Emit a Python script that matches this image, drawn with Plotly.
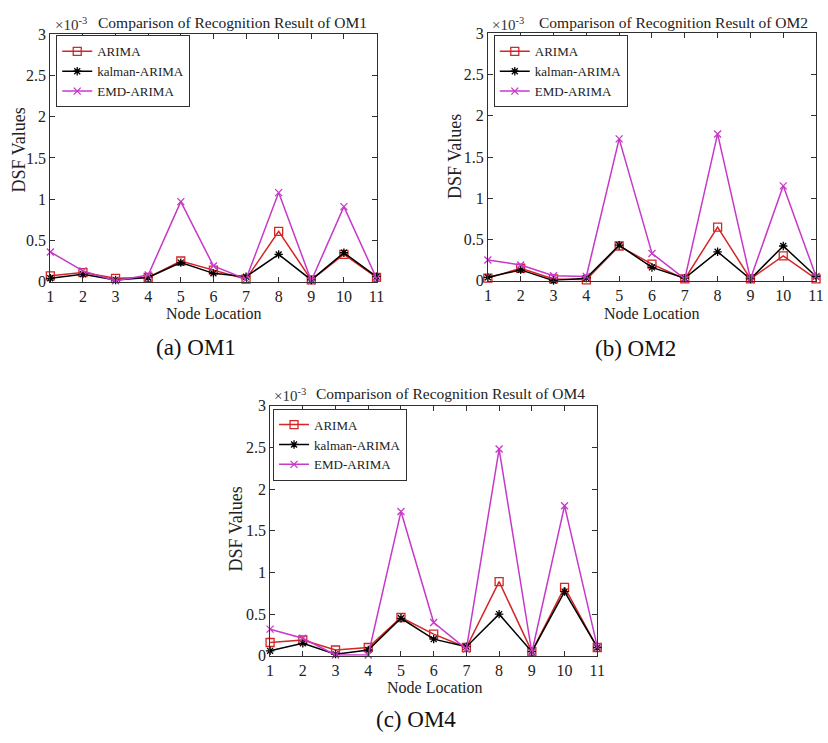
import plotly.graph_objects as go

W, H = 828, 743

nodes = [1, 2, 3, 4, 5, 6, 7, 8, 9, 10, 11]
x_ticks = [1, 2, 3, 4, 5, 6, 7, 8, 9, 10, 11]
y_ticks = [0, 0.5, 1, 1.5, 2, 2.5, 3]
y_tick_labels = ["0", "0.5", "1", "1.5", "2", "2.5", "3"]

series_names = ["ARIMA", "kalman-ARIMA", "EMD-ARIMA"]

# values in units of 1e-3
om1_arima = [0.07, 0.11, 0.04, 0.05, 0.25, 0.14, 0.03, 0.61, 0.02, 0.33, 0.05]
om1_kalman = [0.04, 0.09, 0.02, 0.05, 0.23, 0.10, 0.06, 0.33, 0.02, 0.35, 0.06]
om1_emd = [0.36, 0.13, 0.01, 0.08, 0.97, 0.19, 0.03, 1.08, 0.01, 0.91, 0.04]

om2_arima = [0.03, 0.15, 0.02, 0.01, 0.42, 0.20, 0.02, 0.65, 0.02, 0.30, 0.02]
om2_kalman = [0.04, 0.13, 0.00, 0.03, 0.43, 0.16, 0.03, 0.35, 0.02, 0.42, 0.05]
om2_emd = [0.25, 0.19, 0.06, 0.05, 1.72, 0.33, 0.02, 1.78, 0.02, 1.15, 0.05]

om4_arima = [0.16, 0.19, 0.07, 0.10, 0.46, 0.26, 0.10, 0.89, 0.05, 0.82, 0.10]
om4_kalman = [0.06, 0.15, 0.02, 0.07, 0.45, 0.20, 0.11, 0.50, 0.05, 0.77, 0.10]
om4_emd = [0.32, 0.21, 0.01, 0.01, 1.73, 0.40, 0.08, 2.48, 0.04, 1.80, 0.11]

titles = ["Comparison of Recognition Result of OM1",
          "Comparison of Recognition Result of OM2",
          "Comparison of Recognition Result of OM4"]
captions = ["(a) OM1", "(b) OM2", "(c) OM4"]

panels = [
    dict(data=[om1_arima, om1_kalman, om1_emd], box=(47, 378, 27, 280),
         legend=(53, 28), title=(232, 15), exp=(50, 16), ylab=(15, 145),
         xlab=(213, 313), cap=(195, 347)),
    dict(data=[om2_arima, om2_kalman, om2_emd], box=(491, 824, 26, 279),
         legend=(497, 28), title=(679, 15), exp=(493, 16), ylab=(457, 152),
         xlab=(658, 313), cap=(641, 348)),
    dict(data=[om4_arima, om4_kalman, om4_emd], box=(270, 602, 407, 663),
         legend=(273, 410), title=(453, 395), exp=(272, 396), ylab=(235, 533),
         xlab=(437, 695), cap=(418, 728)),
]

colors = ["#d42626", "#000000", "#c838c8"]
symbols = ["square-open", "asterisk-open", "x-thin-open"]
msizes = [8, 7, 7]

FONT = "Liberation Serif, Times New Roman, serif"
AX = "#303030"


def px(x):
    return x / W


def py(y):
    return 1 - y / H


fig = go.Figure()
annotations = []
layout = {}

for i, p in enumerate(panels):
    sfx = "" if i == 0 else str(i + 1)
    xa, ya = "x" + sfx, "y" + sfx
    leg = "legend" + sfx
    for j in range(3):
        fig.add_trace(go.Scatter(
            x=nodes, y=p["data"][j], name=series_names[j], mode="lines+markers",
            line=dict(color=colors[j], width=1.5),
            marker=dict(symbol=symbols[j], size=msizes[j], color=colors[j],
                        line=dict(color=colors[j], width=1.3)),
            xaxis=xa, yaxis=ya, legend=leg, cliponaxis=False))
    x0, x1, y0, y1 = p["box"]
    common = dict(showgrid=False, zeroline=False, showline=True, linecolor=AX,
                  linewidth=1, mirror="ticks", ticks="inside", ticklen=5,
                  tickcolor=AX, tickfont=dict(family=FONT, size=16, color="#222"))
    layout["xaxis" + sfx] = dict(domain=[px(x0), px(x1)], range=[1, 11],
                                 anchor=ya, tickvals=x_ticks, **common)
    layout["yaxis" + sfx] = dict(domain=[py(y1), py(y0)], range=[0, 3],
                                 anchor=xa, tickvals=y_ticks,
                                 ticktext=y_tick_labels, **common)
    lx, ly = p["legend"]
    layout[leg] = dict(x=px(lx), y=py(ly), xanchor="left", yanchor="top",
                       xref="paper", yref="paper",
                       bgcolor="white", bordercolor=AX, borderwidth=1,
                       font=dict(family=FONT, size=13, color="#222"),
                       itemwidth=30, tracegroupgap=0)
    tx, ty = p["title"]
    annotations.append(dict(x=px(tx), y=py(ty), xref="paper", yref="paper",
                            text=titles[i], showarrow=False,
                            font=dict(family=FONT, size=15.5, color="#222"),
                            xanchor="center", yanchor="middle"))
    ex, ey = p["exp"]
    annotations.append(dict(x=px(ex), y=py(ey), xref="paper", yref="paper",
                            text="×10<sup>-3</sup>", showarrow=False,
                            font=dict(family=FONT, size=15, color="#333"),
                            xanchor="left", yanchor="middle"))
    yx, yy = p["ylab"]
    annotations.append(dict(x=px(yx), y=py(yy), xref="paper", yref="paper",
                            text="DSF Values", showarrow=False, textangle=-90,
                            font=dict(family=FONT, size=18, color="#222"),
                            xanchor="center", yanchor="middle"))
    nx, ny = p["xlab"]
    annotations.append(dict(x=px(nx), y=py(ny), xref="paper", yref="paper",
                            text="Node Location", showarrow=False,
                            font=dict(family=FONT, size=16, color="#222"),
                            xanchor="center", yanchor="middle"))
    cx, cy = p["cap"]
    annotations.append(dict(x=px(cx), y=py(cy), xref="paper", yref="paper",
                            text=captions[i], showarrow=False,
                            font=dict(family=FONT, size=23, color="#111"),
                            xanchor="center", yanchor="middle"))

fig.update_layout(width=W, height=H, margin=dict(l=0, r=0, t=0, b=0),
                  paper_bgcolor="white", plot_bgcolor="white",
                  annotations=annotations, showlegend=True, **layout)

fig.write_html("out.html", config={"displayModeBar": False},
               post_script="document.body.style.margin='0';"
                           "document.body.style.overflow='hidden';")
